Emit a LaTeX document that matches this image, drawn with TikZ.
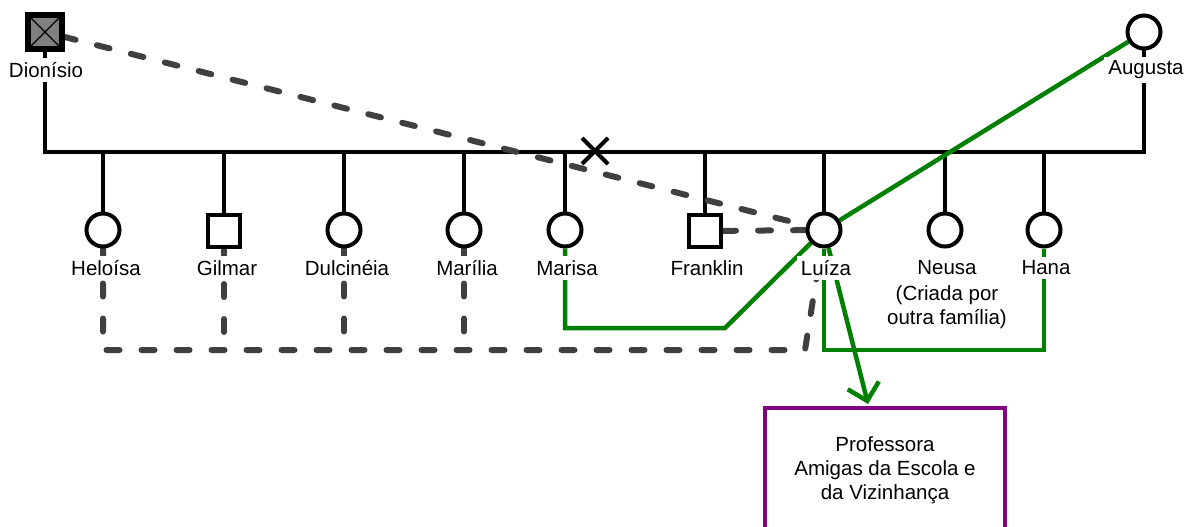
\documentclass[tikz,border=0pt]{standalone}
\usepackage{fontspec}
\setmainfont{Liberation Sans}
\setsansfont{Liberation Sans}
\usetikzlibrary{arrows.meta,backgrounds,shapes.misc}
\begin{document}
\begin{tikzpicture}[x=1pt, y=-1pt, font=\sffamily\fontsize{20.5}{24}\selectfont,
  fem/.style={circle, draw, line width=4pt, fill=white, minimum size=33pt, inner sep=0pt},
  male/.style={rectangle, draw, line width=4pt, fill=white, minimum size=32pt, inner sep=0pt},
  lbl/.style={fill=white, inner sep=4pt, align=center},
  kin/.style={line width=4.5pt},
  link/.style={line width=6pt, draw=black!75, dash pattern=on 13pt off 22pt, line cap=round},
  tie/.style={line width=4.5pt, draw=green!50!black}]
\useasboundingbox (0,0) rectangle (1199,527);
\coordinate (sib) at (0,152); \coordinate (bot) at (0,350); \coordinate (turn) at (805,350); \coordinate (bend) at (725,328); \coordinate (tip) at (868,404);
% parents
\node[male, fill=gray] (dionisio) at (45,32) {};
\draw[line width=1.2pt, shorten <=2pt, shorten >=2pt] (dionisio.north west) -- (dionisio.south east) (dionisio.north east) -- (dionisio.south west);
\draw[line width=4pt] (dionisio.north west) rectangle (dionisio.south east);
\node[fem] (augusta) at (1144,32) {};
\node[lbl] (dionisioL) at (46,70) {Dionísio};
\node[lbl] (augustaL) at (1146,70) {Augusta};
\node[cross out, draw, line width=4pt, minimum size=22pt, inner sep=0pt] (divorce) at (595,151) {};
% children
\node[fem] (heloisa) at (103,230) {}; \node[lbl] (heloisaL) at (106,268) {Heloísa};
\node[male] (gilmar) at (224,231) {}; \node[lbl] (gilmarL) at (227,268) {Gilmar};
\node[fem] (dulcineia) at (344,230) {}; \node[lbl] (dulcineiaL) at (347,268) {Dulcinéia};
\node[fem] (marilia) at (464,230) {}; \node[lbl] (mariliaL) at (467,268) {Marília};
\node[fem] (marisa) at (565,230) {}; \node[lbl] (marisaL) at (567,268) {Marisa};
\node[male] (franklin) at (705,231) {}; \node[lbl] (franklinL) at (707,268) {Franklin};
\node[fem] (luiza) at (824,230) {}; \node[lbl] (luizaL) at (826,268) {Luíza};
\node[fem] (neusa) at (945,230) {}; \node[lbl, inner sep=2pt] (neusaL) at (947,295) {Neusa\\[2pt](Criada por\\outra família)};
\node[fem] (hana) at (1044,230) {}; \node[lbl] (hanaL) at (1046,268) {Hana};
\node[draw=violet, line width=4pt, minimum width=240pt, minimum height=124pt, align=center] (prof) at (885,470) {Professora\\Amigas da Escola e\\da Vizinhança};
\begin{scope}[on background layer]
\draw[kin] (dionisio) -- (dionisio |- sib) -- (augusta |- sib) -- (augusta);
\foreach \p in {heloisa,gilmar,dulcineia,marilia,marisa,franklin,luiza,neusa,hana} \draw[kin] (\p) -- (\p |- sib);
\draw[link] (dionisio) -- (luiza);
\draw[link] (franklin) -- (luiza);
\draw[link] (heloisa) -- (heloisa |- bot) -- (turn) -- (luiza);
\foreach \p in {gilmar,dulcineia,marilia} \draw[link] (\p) -- (\p |- bot);
\draw[tie] (augusta) -- (luiza) -- (bend) -- (marisa |- bend) -- (marisa);
\draw[tie] (luiza) -- (luiza |- bot) -- (hana |- bot) -- (hana);
\draw[tie, -{Straight Barb[length=16pt, width=32pt]}] (luiza) -- (tip);
\end{scope}
\end{tikzpicture}
\end{document}
